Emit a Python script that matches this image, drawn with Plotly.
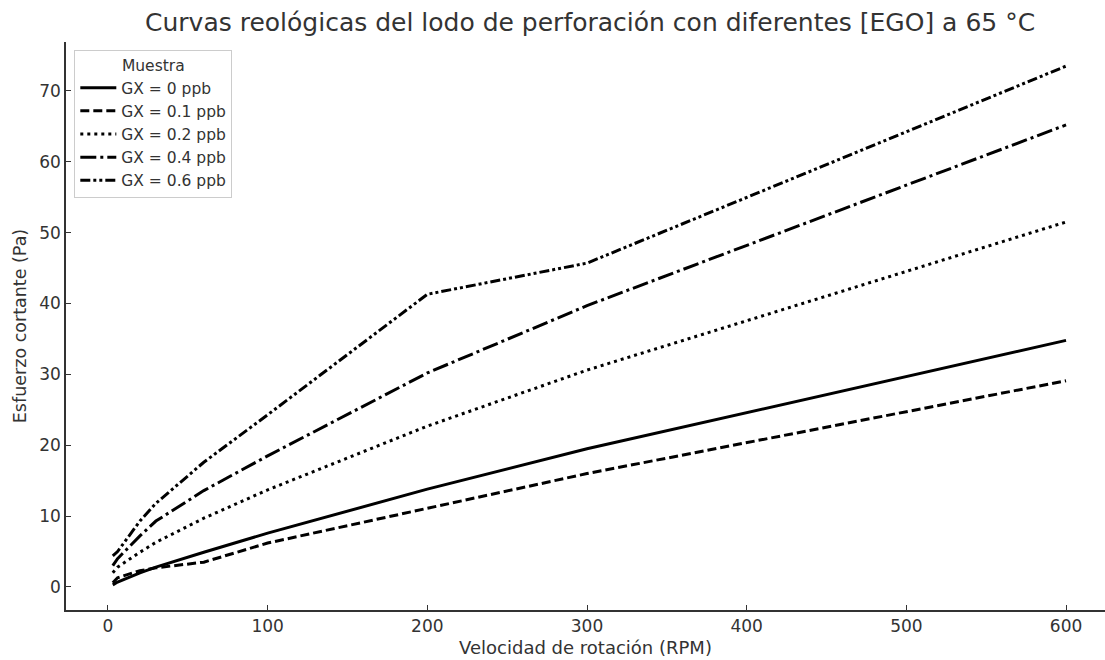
import plotly.graph_objects as go

rpm = [3, 6, 20, 30, 60, 100, 200, 300, 600]
gx_0 = [0.3, 0.7, 2.0, 2.8, 4.9, 7.6, 13.8, 19.5, 34.8]
gx_01 = [0.6, 1.3, 2.3, 2.7, 3.5, 6.2, 11.1, 16.0, 29.1]
gx_02 = [2.0, 2.8, 4.9, 6.3, 9.7, 13.7, 22.7, 30.6, 51.5]
gx_04 = [3.0, 4.0, 7.2, 9.3, 13.6, 18.5, 30.2, 39.7, 65.2]
gx_06 = [4.4, 5.0, 9.3, 11.8, 17.6, 24.3, 41.3, 45.7, 73.5]

names = ["GX = 0 ppb", "GX = 0.1 ppb", "GX = 0.2 ppb", "GX = 0.4 ppb", "GX = 0.6 ppb"]
series = [gx_0, gx_01, gx_02, gx_04, gx_06]
dashes = ["solid", "9px,4px", "3px,4px", "16px,4px,3px,4px", "10px,3px,3px,3px,3px,3px"]

fig = go.Figure()
for n, s, d in zip(names, series, dashes):
    fig.add_trace(go.Scatter(x=rpm, y=s, mode="lines", name=n,
                             line=dict(color="black", width=3, dash=d)))

font_family = "DejaVu Sans"
fig.update_layout(
    width=1105, height=660,
    margin=dict(l=66, r=0, t=42, b=50),
    paper_bgcolor="white", plot_bgcolor="white",
    font=dict(family=font_family, color="#333333", size=16),
    title=dict(text="Curvas reológicas del lodo de perforación con diferentes [EGO] a 65 °C",
               x=0.534, xanchor="center", y=0.966, yanchor="middle",
               font=dict(size=25, color="#333333")),
    showlegend=True,
    legend=dict(x=0.008, y=0.986, xanchor="left", yanchor="top",
                bgcolor="white", bordercolor="#cccccc", borderwidth=1,
                font=dict(size=15.5, color="#333333"),
                title=dict(text="Muestra", side="top center", font=dict(size=15.5)),
                itemwidth=36, tracegroupgap=0),
)
fig.update_xaxes(range=[-26.3, 624.4], tickvals=[0, 100, 200, 300, 400, 500, 600],
                 ticks="inside", ticklen=5, tickwidth=1, tickcolor="#333333",
                 showline=True, linecolor="#333333", linewidth=1.5, showgrid=False,
                 zeroline=False, tickfont=dict(size=17),
                 title=dict(text="Velocidad de rotación (RPM)", font=dict(size=18), standoff=6))
fig.update_yaxes(range=[-3.25, 76.9], tickvals=[0, 10, 20, 30, 40, 50, 60, 70],
                 ticks="inside", ticklen=5, tickwidth=1, tickcolor="#333333",
                 showline=True, linecolor="#333333", linewidth=1.5, showgrid=False,
                 zeroline=False, tickfont=dict(size=17),
                 title=dict(text="Esfuerzo cortante (Pa)", font=dict(size=17.5), standoff=8))

fig.write_html("out.html")
